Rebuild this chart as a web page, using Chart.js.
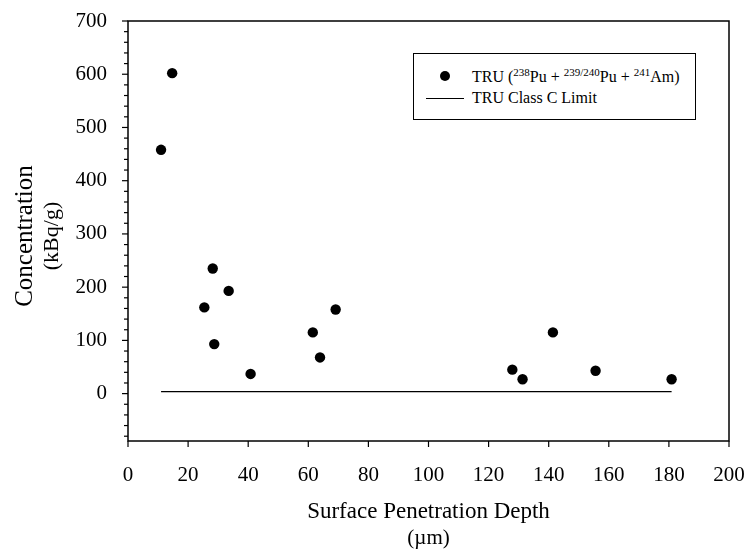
<!DOCTYPE html>
<html><head><meta charset="utf-8">
<script src="https://cdn.jsdelivr.net/npm/chart.js@4/dist/chart.umd.min.js"></script>
<style>
html,body{margin:0;padding:0;background:#fff;}
#wrap{position:relative;width:748px;height:552px;}
canvas{display:block}
#legend{position:absolute;left:413px;top:53px;width:283px;height:67px;border:1px solid #000;box-sizing:border-box;background:#fff;font-family:"Liberation Serif","Times New Roman",serif;font-size:16px;color:#000}
#legend .row{position:absolute;left:58px;white-space:nowrap;line-height:16px;height:16px}
#legend sup{font-size:11px;line-height:0;vertical-align:0;position:relative;top:-6px}
#legend .dot{position:absolute;left:26px;top:17px;width:10px;height:10px;border-radius:50%;background:#000}
#legend .ln{position:absolute;left:12px;top:44px;width:38px;height:0;border-top:1.3px solid #000}
</style></head>
<body><div id="wrap"><canvas id="c" width="748" height="552"></canvas>
<div id="legend"><div class="dot"></div><div class="row" style="top:15px">TRU (<sup>238</sup>Pu + <sup>239/240</sup>Pu + <sup>241</sup>Am)</div><div class="ln"></div><div class="row" style="top:36px">TRU Class C Limit</div></div>
</div>
<script>
const depth = [11.0, 14.7, 25.4, 28.2, 28.7, 33.5, 40.8, 61.5, 63.9, 69.1, 127.9, 131.3, 141.4, 155.6, 180.9];
const concentration = [458, 602, 162, 235, 93, 193, 37, 115, 68, 158, 45, 27, 115, 43, 27];
const classCLimit = 3.7;
const xTicks = [0, 20, 40, 60, 80, 100, 120, 140, 160, 180, 200];
const yTicks = [-80, -60, -40, -20, 0, 20, 40, 60, 80, 100, 120, 140, 160, 180, 200, 220, 240, 260, 280, 300, 320, 340, 360, 380, 400, 420, 440, 460, 480, 500, 520, 540, 560, 580, 600, 620, 640, 660, 680, 700];
const yLabels = [0, 100, 200, 300, 400, 500, 600, 700];
const xTitle = "Surface Penetration Depth", xUnit = "(\u00b5m)";
const yTitle = "Concentration", yUnit = "(kBq/g)";

const serif = '"Liberation Serif", "Times New Roman", serif';
const pts = depth.map((d, i) => ({x: d, y: concentration[i]}));
const limitPts = [{x: Math.min(...depth), y: classCLimit}, {x: Math.max(...depth), y: classCLimit}];

const frame = {
  id: 'frame',
  afterDraw(chart) {
    const {ctx, chartArea: a} = chart;
    ctx.save();
    ctx.strokeStyle = '#000'; ctx.lineWidth = 1.5;
    ctx.strokeRect(a.left, a.top, a.right - a.left, a.bottom - a.top);
    const ys = chart.scales.y;
    ctx.lineWidth = 1.2;
    yTicks.forEach(v => {
      const p = ys.getPixelForValue(v);
      const len = yLabels.includes(v) ? 6 : 4;
      ctx.beginPath(); ctx.moveTo(a.left - len, p); ctx.lineTo(a.left, p); ctx.stroke();
    });
    const xs = chart.scales.x;
    xTicks.forEach(v => {
      const p = xs.getPixelForValue(v);
      ctx.beginPath(); ctx.moveTo(p, a.bottom); ctx.lineTo(p, a.bottom + 6); ctx.stroke();
    });
    ctx.fillStyle = '#000';
    ctx.textAlign = 'center'; ctx.textBaseline = 'alphabetic';
    const cx = (a.left + a.right) / 2;
    ctx.font = '23px ' + serif; ctx.fillText(xTitle, cx, 518);
    ctx.font = '21px ' + serif; ctx.fillText(xUnit, cx, 544);
    const cy = (a.top + a.bottom) / 2 + 5;
    ctx.save(); ctx.translate(32, cy); ctx.rotate(-Math.PI / 2);
    ctx.font = '25px ' + serif; ctx.fillText(yTitle, 0, 0); ctx.restore();
    ctx.save(); ctx.translate(58, cy); ctx.rotate(-Math.PI / 2);
    ctx.font = '22px ' + serif; ctx.fillText(yUnit, 0, 0); ctx.restore();
    ctx.restore();
  }
};

new Chart(document.getElementById('c'), {
  type: 'scatter',
  data: {datasets: [
    {label: 'TRU', data: pts, pointRadius: 5.2, pointHoverRadius: 5.2, backgroundColor: '#000', borderColor: '#000', borderWidth: 0, showLine: false, order: 1},
    {label: 'TRU Class C Limit', data: limitPts, showLine: true, pointRadius: 0, borderColor: '#000', borderWidth: 1.3, order: 2}
  ]},
  options: {
    responsive: false, animation: false, devicePixelRatio: 1,
    layout: {padding: {left: 0, top: 21, right: 19, bottom: 0}},
    plugins: {legend: {display: false}, tooltip: {enabled: false}},
    scales: {
      x: {type: 'linear', min: 0, max: 200,
        afterBuildTicks: ax => { ax.ticks = xTicks.map(v => ({value: v})); },
        afterFit: ax => { ax.height = 111; ax.paddingLeft = 0; ax.paddingRight = 0; },
        grid: {display: false, drawOnChartArea: false},
        border: {display: false},
        ticks: {color: '#000', font: {family: serif, size: 21}, padding: 14, maxRotation: 0, autoSkip: false},
      },
      y: {type: 'linear', min: -89, max: 700,
        afterBuildTicks: ax => { ax.ticks = yTicks.map(v => ({value: v})); },
        afterFit: ax => { ax.width = 128; ax.paddingTop = 0; ax.paddingBottom = 0; },
        grid: {display: false, drawOnChartArea: false},
        border: {display: false},
        ticks: {color: '#000', font: {family: serif, size: 21}, padding: 13, autoSkip: false,
          callback: v => yLabels.includes(v) ? String(v) : ''}
      }
    }
  },
  plugins: [frame]
});
</script></body></html>
